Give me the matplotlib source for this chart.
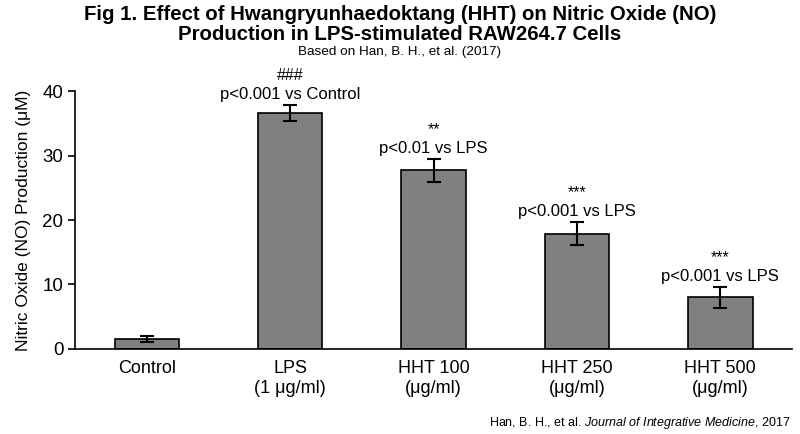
import matplotlib
matplotlib.use("Agg")
import matplotlib.pyplot as plt

plt.rcParams['font.family'] = ['Liberation Sans', 'DejaVu Sans']
plt.rcParams['mathtext.fontset'] = 'custom'
plt.rcParams['mathtext.rm'] = 'Liberation Sans'
plt.rcParams['mathtext.it'] = 'Liberation Sans:italic'

groups = ["Control", "LPS\n(1 μg/ml)", "HHT 100\n(μg/ml)", "HHT 250\n(μg/ml)", "HHT 500\n(μg/ml)"]
no_uM = [1.5, 36.6, 27.7, 17.9, 8.0]
err_uM = [0.45, 1.25, 1.8, 1.8, 1.6]
marks = ["", "###", "**", "***", "***"]
pvals = ["", "p<0.001 vs Control", "p<0.01 vs LPS", "p<0.001 vs LPS", "p<0.001 vs LPS"]

fig = plt.figure(figsize=(8, 4.34), dpi=100)
ax = fig.add_axes([0.094, 0.196, 0.896, 0.594])

x = range(len(groups))
ax.bar(x, no_uM, width=0.45, color='#808080', edgecolor='black', linewidth=1.2,
       yerr=err_uM, capsize=5, error_kw={'elinewidth': 1.5, 'capthick': 1.5, 'ecolor': 'black'})

# significance labels above each error bar
for i in x:
    if not pvals[i]:
        continue
    top = no_uM[i] + err_uM[i]
    ax.annotate(pvals[i], (i, top), xytext=(0, 2), textcoords='offset points',
                ha='center', va='bottom', fontsize=12)
    ax.annotate(marks[i], (i, top), xytext=(0, 15.5), textcoords='offset points',
                ha='center', va='bottom', fontsize=11.5)

ax.set_xlim(-0.5, 4.5)
ax.set_ylim(0, 40)
ax.set_yticks([0, 10, 20, 30, 40])
ax.set_xticks(list(x))
ax.set_xticklabels(groups, fontsize=13)
ax.tick_params(axis='x', length=0, pad=8)
ax.tick_params(axis='y', labelsize=13.5, length=5, width=1.2)
ax.set_ylabel("Nitric Oxide (NO) Production (μM)", fontsize=12.5, labelpad=8)
for s in ['top', 'right']:
    ax.spines[s].set_visible(False)
ax.spines['left'].set_linewidth(1.2)
ax.spines['bottom'].set_linewidth(1.2)

fig.text(0.5, 0.988, "Fig 1. Effect of Hwangryunhaedoktang (HHT) on Nitric Oxide (NO)\nProduction in LPS-stimulated RAW264.7 Cells",
         ha='center', va='top', fontsize=14.7, fontweight='bold', linespacing=1.05)
fig.text(0.5, 0.893, "Based on Han, B. H., et al. (2017)", ha='center', va='top', fontsize=9.7)

fig.text(0.988, 0.008, "Han, B. H., et al. $\\it{Journal\\ of\\ Integrative\\ Medicine}$, 2017",
         ha='right', va='bottom', fontsize=9)

fig.savefig("out.png", dpi=100, facecolor='white')
